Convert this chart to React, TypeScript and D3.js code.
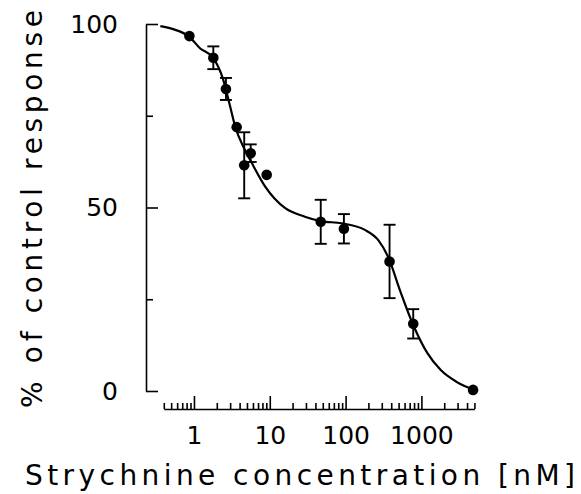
import React, { useEffect, useRef } from "react";
import * as d3 from "d3";

// measured points (concentration nM, % response, +/- error)
const conc = [0.87, 1.8, 2.64, 3.66, 4.6, 5.6, 9.1, 47, 95, 380, 780, 4800];
const resp = [96.7, 90.8, 82.3, 71.9, 61.5, 64.8, 58.9, 46.1, 44.2, 35.3, 18.3, 0.3];
const errs = [0, 3.1, 3, 0, 9, 2.4, 0, 6, 4, 10, 4, 0];

// fitted curve
const fitX = [0.36, 0.53, 0.87, 1.2, 1.8, 2.4, 3.0, 3.5, 4.7, 5.8, 8.7, 16, 29, 47, 89, 180, 270, 370, 520, 780, 1200, 1800, 2900, 5000];
const fitY = [99.4, 98.6, 96.5, 93.4, 90.7, 85.2, 77.5, 72, 65.7, 62.1, 55.7, 49.8, 47.5, 46.3, 45.7, 43.9, 41.1, 36.2, 27.5, 18, 10.3, 5.7, 2.5, 0.3];

const xMajor = [1, 10, 100, 1000];
const yMajor = [0, 50, 100];
const yMinor = [25, 75];

const xTitle = "Strychnine concentration [nM]";
const yTitle = "% of control response";

const W = 581;
const H = 494;
const FONT = "'DejaVu Sans', Verdana, sans-serif";

export default function App() {
  const ref = useRef<SVGSVGElement>(null);

  useEffect(() => {
    const svg = d3.select(ref.current);
    svg.selectAll("*").remove();

    const x = d3.scaleLog().domain([0.4, 5000]).range([163.8, 474.4]);
    const y = d3.scaleLinear().domain([0, 100]).range([391, 24]);

    const axisY = 409;
    const axisX = 146;

    // x axis: minor ticks first, then majors with labels
    const minorX = x.ticks().filter((t) => !xMajor.includes(t));
    const gxMinor = svg.append("g").attr("transform", `translate(0,${axisY})`)
      .call(d3.axisBottom(x).tickValues(minorX).tickSizeInner(-6).tickSizeOuter(0).tickFormat(() => ""));
    const gx = svg.append("g").attr("transform", `translate(0,${axisY})`)
      .call(d3.axisBottom(x).tickValues(xMajor).tickSizeInner(-13).tickSizeOuter(0).tickPadding(17)
        .tickFormat((d) => String(d)));
    gxMinor.select(".domain").remove();

    // y axis, ticks pointing inward
    const gyMinor = svg.append("g").attr("transform", `translate(${axisX},0)`)
      .call(d3.axisLeft(y).tickValues(yMinor).tickSizeInner(-7).tickSizeOuter(0).tickFormat(() => ""));
    gyMinor.select(".domain").remove();
    const gy = svg.append("g").attr("transform", `translate(${axisX},0)`)
      .call(d3.axisLeft(y).tickValues(yMajor).tickSizeInner(-12).tickSizeOuter(0).tickPadding(28)
        .tickFormat((d) => String(d)));

    svg.selectAll(".domain, .tick line").attr("stroke", "#000").attr("stroke-width", 1.6);
    [gx, gy].forEach((g) =>
      g.selectAll("text")
        .attr("font-family", FONT)
        .attr("font-size", 25)
        .attr("fill", "#000")
    );

    // fitted curve
    const line = d3.line<number>()
      .x((_, i) => x(fitX[i]))
      .y((d) => y(d))
      .curve(d3.curveMonotoneX);
    svg.append("path")
      .datum(fitY)
      .attr("d", line)
      .attr("fill", "none")
      .attr("stroke", "#000")
      .attr("stroke-width", 2.2);

    // error bars
    const bars = svg.append("g").attr("stroke", "#000").attr("stroke-width", 1.9);
    conc.forEach((c, i) => {
      if (!errs[i]) return;
      const cx = x(c);
      const top = y(resp[i] + errs[i]);
      const bot = y(resp[i] - errs[i]);
      bars.append("line").attr("x1", cx).attr("x2", cx).attr("y1", top).attr("y2", bot);
      bars.append("line").attr("x1", cx - 6).attr("x2", cx + 6).attr("y1", top).attr("y2", top);
      bars.append("line").attr("x1", cx - 6).attr("x2", cx + 6).attr("y1", bot).attr("y2", bot);
    });

    // points
    svg.append("g")
      .selectAll("circle")
      .data(conc)
      .join("circle")
      .attr("cx", (d) => x(d))
      .attr("cy", (_, i) => y(resp[i]))
      .attr("r", 5.3)
      .attr("fill", "#000");

    // axis titles
    svg.append("text")
      .attr("x", 25)
      .attr("y", 485)
      .attr("textLength", 550)
      .attr("lengthAdjust", "spacing")
      .attr("font-family", FONT)
      .attr("font-size", 28)
      .attr("fill", "#000")
      .text(xTitle);

    svg.append("text")
      .attr("transform", `translate(42,408) rotate(-90)`)
      .attr("textLength", 398)
      .attr("lengthAdjust", "spacing")
      .attr("font-family", FONT)
      .attr("font-size", 28)
      .attr("fill", "#000")
      .text(yTitle);
  }, []);

  return (
    <svg
      ref={ref}
      width={W}
      height={H}
      style={{ position: "absolute", left: 0, top: 0, background: "#fff" }}
    />
  );
}
